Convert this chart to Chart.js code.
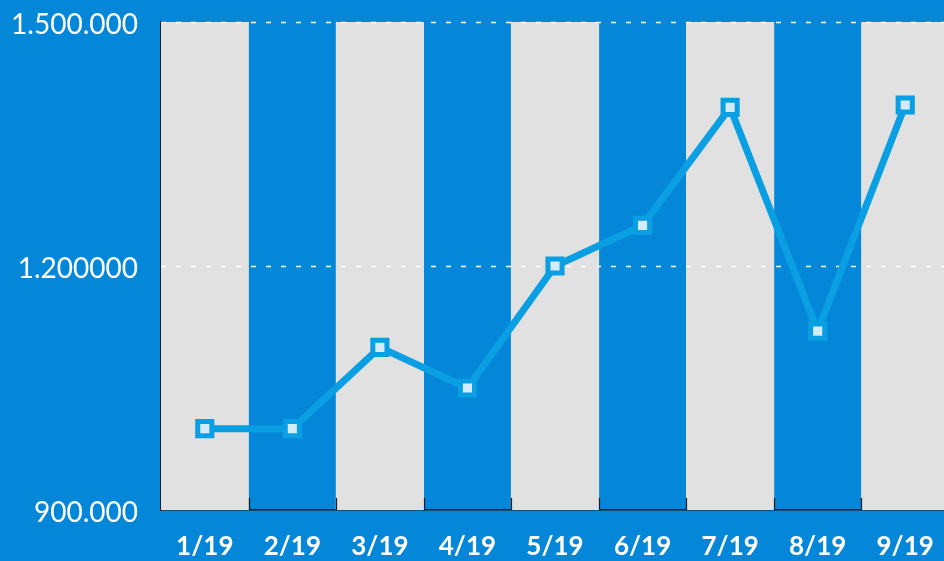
<!DOCTYPE html>
<html>
<head>
<meta charset="utf-8">
<script src="https://cdn.jsdelivr.net/npm/chart.js@4/dist/chart.umd.min.js"></script>
<style>
  html, body { margin: 0; padding: 0; background: #0587d9; overflow: hidden; }
  canvas { display: block; }
</style>
</head>
<body>
<canvas id="c" width="964" height="561" style="width:964px;height:561px"></canvas>
<script>
const categories = ["1/19", "2/19", "3/19", "4/19", "5/19", "6/19", "7/19", "8/19", "9/19"];
const values = [1000000, 1000000, 1100000, 1050000, 1200000, 1250000, 1395000, 1120000, 1398000];
const stripeValues = [1500000, null, 1500000, null, 1500000, null, 1500000, null, 1500000];
const yTickValues = [900000, 1200000, 1500000];
const yTickLabels = ["900.000", "1.200000", "1.500.000"];

const LINE = '#0a9fe2';

const overlayPlugin = {
  id: 'overlay',
  afterDatasetDraw(chart, args) {
    if (args.index !== 1) return; // after stripes (bar dataset)
    const ctx = chart.ctx, y = chart.scales.y, a = chart.chartArea;
    ctx.save();
    ctx.strokeStyle = '#ffffff';
    ctx.lineWidth = 1.3;
    ctx.setLineDash([5, 10]);
    yTickValues.forEach(v => {
      if (v === y.min) return;
      const py = Math.round(y.getPixelForValue(v)) + 0.5;
      ctx.beginPath();
      ctx.moveTo(a.left, py);
      ctx.lineTo(a.right, py);
      ctx.stroke();
    });
    ctx.restore();
  },
  afterDatasetsDraw(chart) {
    const ctx = chart.ctx, x = chart.scales.x, a = chart.chartArea;
    ctx.save();
    ctx.strokeStyle = '#1a1a1a';
    ctx.lineWidth = 1.2;
    for (let i = 1; i < categories.length; i++) {
      const px = Math.round((x.getPixelForValue(i - 1) + x.getPixelForValue(i)) / 2) + 0.5;
      ctx.beginPath();
      ctx.moveTo(px, a.bottom - 12);
      ctx.lineTo(px, a.bottom);
      ctx.stroke();
    }
    ctx.restore();
  }
};

new Chart(document.getElementById('c'), {
  type: 'bar',
  data: {
    labels: categories,
    datasets: [
      {
        type: 'line',
        data: values,
        order: 0,
        borderColor: LINE,
        borderWidth: 7,
        tension: 0,
        pointStyle: 'rect',
        pointRadius: 10,
        pointHoverRadius: 10,
        pointBorderWidth: 5,
        pointBorderColor: LINE,
        pointBackgroundColor: '#d4ebf9'
      },
      {
        type: 'bar',
        data: stripeValues,
        order: 1,
        backgroundColor: '#e1e1e1',
        borderWidth: 0,
        barPercentage: 1,
        categoryPercentage: 1
      }
    ]
  },
  options: {
    responsive: false,
    animation: false,
    events: [],
    layout: { padding: { top: 22, right: 0, left: 0, bottom: 0 } },
    plugins: { legend: { display: false }, tooltip: { enabled: false } },
    scales: {
      x: {
        grid: { display: false, drawTicks: true, tickLength: 21 },
        border: { display: true, color: '#1a1a1a', width: 1.5 },
        ticks: {
          color: '#ffffff',
          font: { family: 'Lato', size: 26, weight: 'bold' },
          padding: 0,
          maxRotation: 0,
          autoSkip: false
        },
        afterFit(s) { s.height = 51; s.paddingLeft = 0; s.paddingRight = 0; }
      },
      y: {
        min: 900000,
        max: 1500000,
        grid: { display: false, drawTicks: false },
        border: { display: true, color: '#1a1a1a', width: 2 },
        afterBuildTicks(s) { s.ticks = yTickValues.map(v => ({ value: v })); },
        ticks: {
          color: '#ffffff',
          font: { family: 'Lato', size: 28 },
          padding: 23,
          labelOffset: 3,
          callback(v) { const i = yTickValues.indexOf(v); return i >= 0 ? yTickLabels[i] : ''; }
        },
        afterFit(s) { s.width = 161; s.paddingTop = 0; s.paddingBottom = 0; }
      }
    }
  },
  plugins: [overlayPlugin]
});
</script>
</body>
</html>
